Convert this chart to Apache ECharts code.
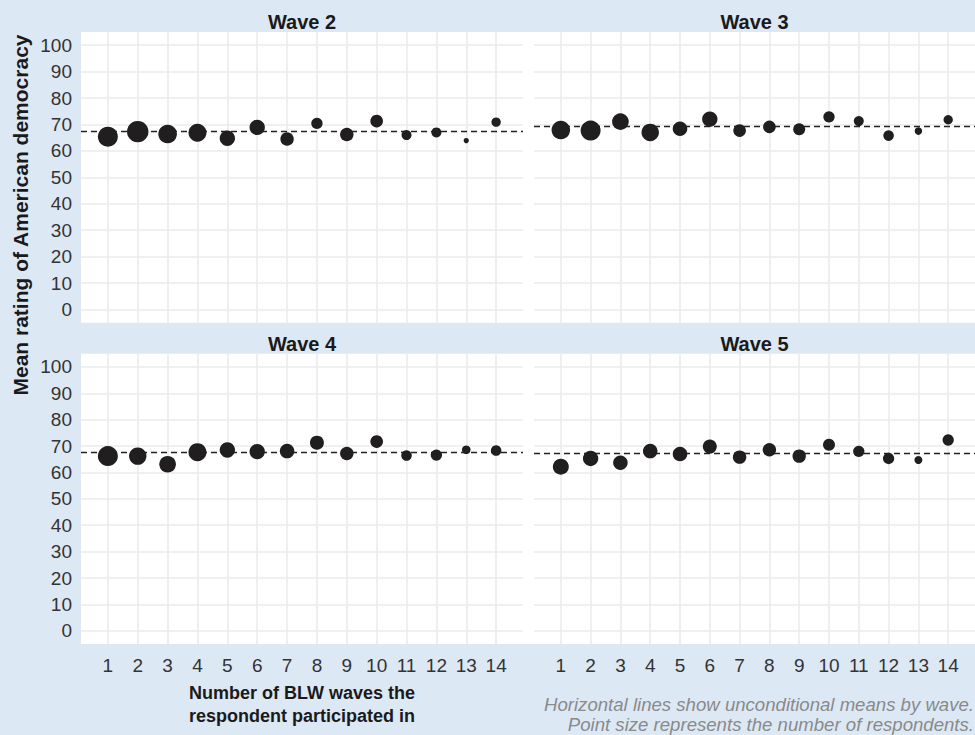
<!DOCTYPE html>
<html>
<head>
<meta charset="utf-8">
<script src="https://cdn.jsdelivr.net/npm/echarts@6/dist/echarts.min.js"></script>
<style>
  html, body { margin: 0; padding: 0; background: #dde8f5; }
  #chart { width: 975px; height: 735px; }
</style>
</head>
<body>
<div id="chart"></div>
<script>
// Number of BLW waves a respondent took part in
const waveCounts = [1, 2, 3, 4, 5, 6, 7, 8, 9, 10, 11, 12, 13, 14];
const yTicks = [0, 10, 20, 30, 40, 50, 60, 70, 80, 90, 100];

const waveNames = ['Wave 2', 'Wave 3', 'Wave 4', 'Wave 5'];
// Unconditional mean rating per wave
const waveMeans = [67.3, 69.2, 67.5, 67.1];

// Mean rating of American democracy by number of waves participated in
const wave2Rating = [65.4, 67.3, 66.4, 66.9, 64.8, 68.9, 64.5, 70.4, 66.2, 71.3, 66.0, 67.0, 63.9, 70.9];
const wave3Rating = [67.9, 67.7, 71.1, 67.0, 68.4, 72.0, 67.7, 69.1, 68.2, 72.9, 71.3, 65.8, 67.5, 71.8];
const wave4Rating = [66.2, 66.2, 63.1, 67.7, 68.5, 67.9, 68.1, 71.3, 67.2, 71.7, 66.4, 66.6, 68.6, 68.3];
const wave5Rating = [62.2, 65.3, 63.7, 68.1, 67.0, 69.8, 65.8, 68.6, 66.2, 70.5, 68.0, 65.3, 64.7, 72.3];

// Number of respondents behind each mean
const wave2N = [1000, 1150, 870, 810, 590, 590, 450, 320, 450, 400, 250, 250, 70, 220];
const wave3N = [860, 1000, 690, 760, 530, 590, 400, 400, 360, 320, 250, 280, 140, 220];
const wave4N = [1000, 760, 690, 810, 590, 590, 530, 490, 450, 400, 280, 320, 185, 280];
const wave5N = [640, 590, 530, 530, 530, 490, 450, 450, 450, 360, 320, 320, 160, 320];

const ratings = [wave2Rating, wave3Rating, wave4Rating, wave5Rating];
const counts = [wave2N, wave3N, wave4N, wave5N];

// Panel geometry (facet layout 2 x 2)
const panels = [
  { left: 81,  top: 32,    width: 442, height: 290.7 },
  { left: 534, top: 32,    width: 441, height: 290.7 },
  { left: 81,  top: 353.7, width: 442, height: 290.3 },
  { left: 534, top: 353.7, width: 441, height: 290.3 }
];

const FONT = '"Liberation Sans", Arial, Helvetica, sans-serif';
const GRID_COLOR = '#ebebeb';
const POINT_COLOR = '#211e1f';

const grids = [], xAxes = [], yAxes = [], series = [];

panels.forEach((p, i) => {
  const isLeft = i % 2 === 0;
  const isBottom = i >= 2;
  grids.push({ left: p.left, top: p.top, width: p.width, height: p.height, show: false, containLabel: false });
  xAxes.push({
    gridIndex: i, type: 'value', min: 0.1, max: 14.9,
    axisLine: { show: false }, axisTick: { show: false }, splitLine: { show: false },
    axisLabel: {
      show: isBottom, customValues: waveCounts, fontFamily: FONT, fontSize: 19,
      color: '#333333', margin: 12
    }
  });
  yAxes.push({
    gridIndex: i, type: 'value', min: -5, max: 105,
    axisLine: { show: false }, axisTick: { show: false }, splitLine: { show: false },
    axisLabel: {
      show: isLeft, customValues: yTicks, fontFamily: FONT, fontSize: 19,
      color: '#333333', margin: 9
    }
  });

  // background grid lines
  series.push({
    type: 'line', xAxisIndex: i, yAxisIndex: i, data: [], z: 1, silent: true,
    markLine: {
      z: 1, silent: true, symbol: 'none', animation: false,
      label: { show: false },
      emphasis: { disabled: true },
      lineStyle: { color: GRID_COLOR, width: 1.6, type: 'solid' },
      data: waveCounts.map(v => ({ xAxis: v })).concat(yTicks.map(v => ({ yAxis: v })))
    }
  });

  // unconditional mean of the wave
  series.push({
    type: 'line', xAxisIndex: i, yAxisIndex: i, data: [], z: 2, silent: true,
    markLine: {
      z: 2, silent: true, symbol: 'none', animation: false,
      label: { show: false },
      emphasis: { disabled: true },
      lineStyle: { color: '#222222', width: 1.3, type: [6, 4] },
      data: [{ yAxis: waveMeans[i] }]
    }
  });

  // means by number of waves, sized by respondents
  series.push({
    type: 'scatter', xAxisIndex: i, yAxisIndex: i, z: 10,
    data: ratings[i].map((v, k) => [waveCounts[k], v, counts[i][k]]),
    symbolSize: d => 2 * Math.sqrt(d[2] / 10),
    itemStyle: { color: POINT_COLOR, opacity: 1 },
    animation: false
  });
});

const graphics = [
  { type: 'rect', z: -10, shape: { x: 81, y: 32, width: 894, height: 290.7 }, style: { fill: '#ffffff' } },
  { type: 'rect', z: -10, shape: { x: 81, y: 353.7, width: 894, height: 290.3 }, style: { fill: '#ffffff' } }
];

// facet strip labels
panels.forEach((p, i) => {
  graphics.push({
    type: 'text', x: p.left + p.width / 2, y: p.top - 10,
    style: {
      text: waveNames[i], font: 'bold 20px ' + FONT, fill: '#1a1a1a',
      align: 'center', verticalAlign: 'middle', textAlign: 'center', textVerticalAlign: 'middle'
    }
  });
});

// axis titles and caption
graphics.push({
  type: 'text', x: 20, y: 215, rotation: Math.PI / 2,
  style: {
    text: 'Mean rating of American democracy', font: 'bold 21px ' + FONT, fill: '#1a1a1a',
    align: 'center', verticalAlign: 'middle', textAlign: 'center', textVerticalAlign: 'middle'
  }
});
graphics.push({
  type: 'text', x: 302, y: 704,
  style: {
    text: 'Number of BLW waves the\nrespondent participated in', font: 'bold 18px ' + FONT, fill: '#1a1a1a',
    lineHeight: 23, align: 'center', verticalAlign: 'middle', textAlign: 'center', textVerticalAlign: 'middle'
  }
});
graphics.push({
  type: 'text', x: 974, y: 714,
  style: {
    text: 'Horizontal lines show unconditional means by wave.\nPoint size represents the number of respondents.',
    font: 'italic 18.6px ' + FONT, fill: '#8a8a8a', lineHeight: 20,
    align: 'right', verticalAlign: 'middle', textAlign: 'right', textVerticalAlign: 'middle'
  }
});

const chart = echarts.init(document.getElementById('chart'), null, { renderer: 'svg' });
chart.setOption({
  backgroundColor: '#dde8f5',
  animation: false,
  grid: grids,
  xAxis: xAxes,
  yAxis: yAxes,
  series: series,
  graphic: { elements: graphics }
});
</script>
</body>
</html>
